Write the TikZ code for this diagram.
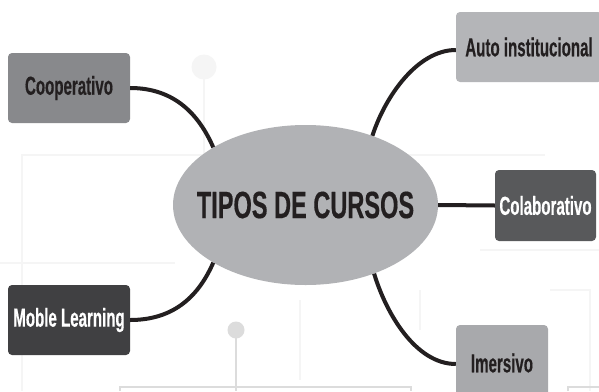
\documentclass[tikz,border=0pt]{standalone}
\usepackage{fontspec}
\usetikzlibrary{shapes.geometric}
\newfontfamily\cond[FakeStretch=0.58,BoldFeatures={FakeBold=0.4}]{Liberation Sans}
\newfontfamily\condc[FakeStretch=0.62,BoldFeatures={FakeBold=0.4}]{Liberation Sans}
\definecolor{ellfill}{HTML}{B1B2B5}
\definecolor{coopfill}{HTML}{88898C}
\definecolor{autofill}{HTML}{B4B5B8}
\definecolor{colabfill}{HTML}{58595B}
\definecolor{moblefill}{HTML}{404042}
\definecolor{imerfill}{HTML}{A8A9AC}
\definecolor{txtdark}{HTML}{231F20}
\definecolor{gridfaint}{HTML}{F5F5F5}
\definecolor{gridmid}{HTML}{DCDCDC}
\tikzset{
  box/.style={rectangle, rounded corners=4pt, inner sep=0pt, font=\cond\bfseries\fontsize{26}{28}\selectfont},
  lightbox/.style={box, text=txtdark},
  darkbox/.style={box, text=white},
  link/.style={line width=4pt, color=txtdark},
  faint/.style={line width=1.5pt, color=gridfaint},
  mid/.style={line width=1.5pt, color=gridmid}
}
\begin{document}
\begin{tikzpicture}[x=1pt,y=-1pt]
\useasboundingbox (0,0) rectangle (599,391);
\fill[white] (0,0) rectangle (599,391);
% faint background grid
\fill[gridfaint] (204,67) circle (12.5);
\draw[faint] (204,79) -- (204,155);
\draw[faint] (22,300) -- (22,155) -- (215,155);
\draw[faint] (0,263) -- (175,263);
\draw[faint] (22,263) -- (22,391);
\draw[faint] (400,155) -- (545,155);
\draw[faint] (480,250) -- (599,250);
\draw[faint] (420,290) -- (420,330);
\draw[faint] (550,290) -- (590,290) -- (590,391);
\draw[faint] (300,300) -- (300,380);
% visible background lines
\fill[gridmid] (236,330) circle (8.5);
\draw[mid] (236,334) -- (236,391);
\draw[mid] (120,391) -- (120,387) -- (411,387) -- (411,391);
\draw[mid] (568,391) -- (568,387) -- (599,387);
% central node
\node[ellipse, fill=ellfill, minimum width=265pt, minimum height=160pt, inner sep=0pt,
      text=txtdark, font=\condc\bfseries\fontsize{38}{40}\selectfont] (ell) at (305.5,205) {\makebox[0pt]{TIPOS DE CURSOS}};
% branch nodes
\node[lightbox, fill=coopfill, minimum width=122pt, minimum height=70pt] (coop) at (69,88) {Cooperativo};
\node[lightbox, fill=autofill, minimum width=146pt, minimum height=70pt] (auto) at (529,47) {Auto institucional};
\node[darkbox, fill=colabfill, minimum width=101pt, minimum height=71pt] (colab) at (545.5,205.5) {Colaborativo};
\node[darkbox, fill=moblefill, minimum width=122pt, minimum height=70pt] (moble) at (69,320) {Moble Learning};
\node[lightbox, fill=imerfill, minimum width=92pt, minimum height=76pt] (imer) at (502,363) {Imersivo};
% connectors
\draw[link] (coop.east) .. controls +(45,0) and +(-14,-32) .. (ell.148);
\draw[link] (ell.46) .. controls +(13,-40) and +(-38,0) .. ([yshift=-3pt]auto.west);
\draw[link] (ell.east) -- (colab.west);
\draw[link] (moble.east) .. controls +(45,0) and +(-14,32) .. (ell.212);
\draw[link] (ell.315) .. controls +(12,40) and +(-40,0) .. ([yshift=-1pt]imer.west);
\end{tikzpicture}
\end{document}
